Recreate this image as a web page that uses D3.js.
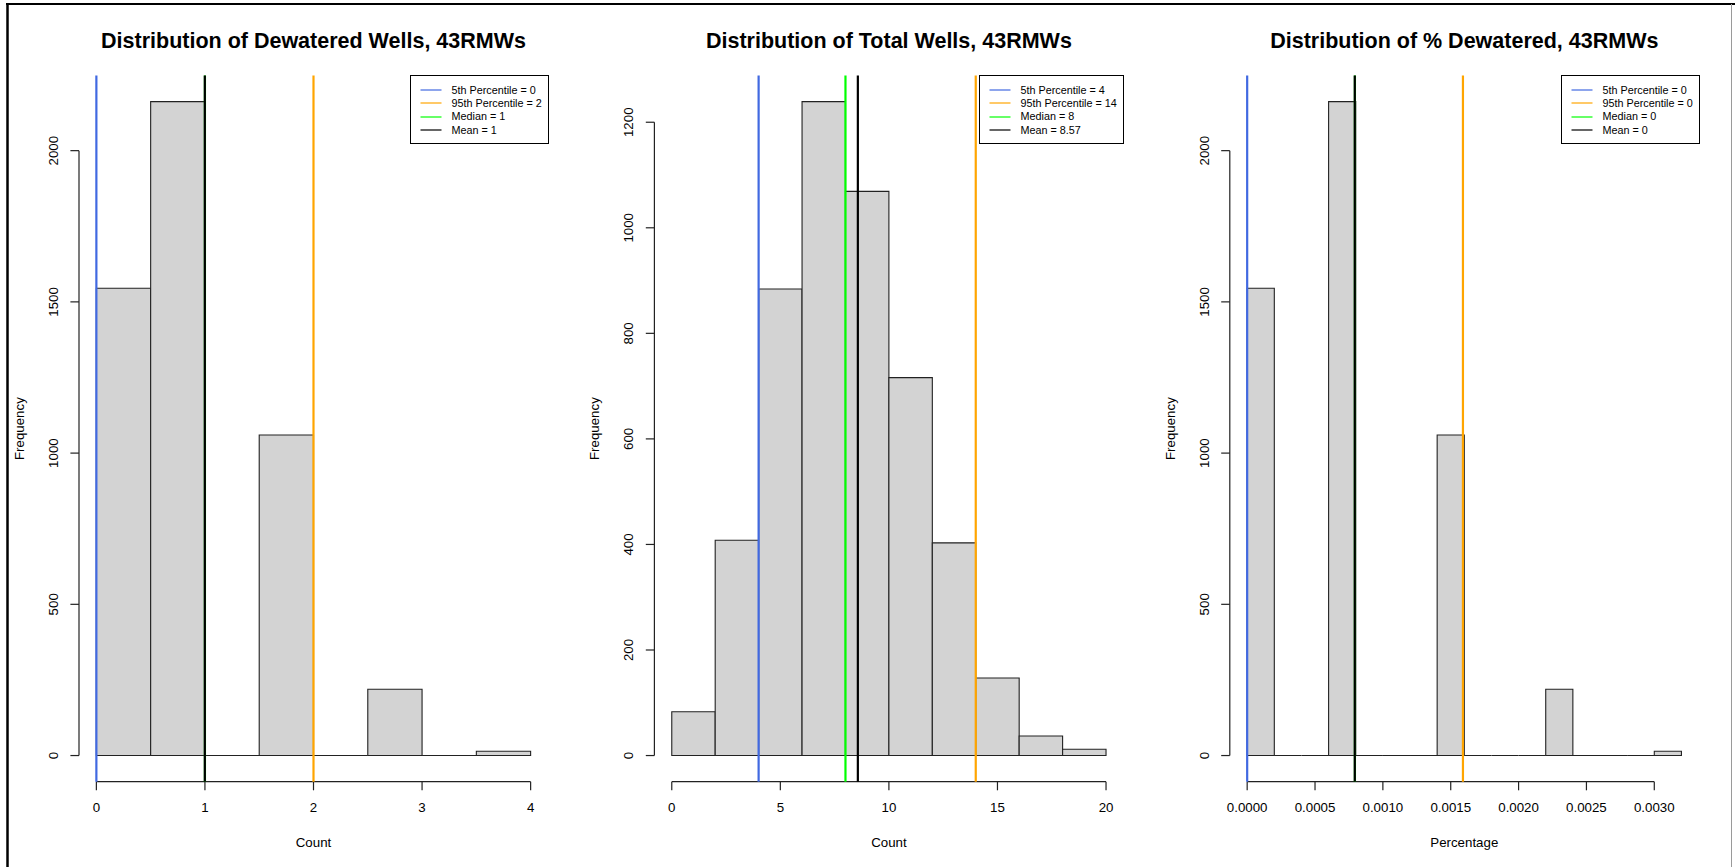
<!DOCTYPE html>
<html>
<head>
<meta charset="utf-8">
<script src="https://cdn.jsdelivr.net/npm/d3@7"></script>
<style>
    body { margin: 0; background: #fff; }
    svg { display: block; font-family: "Liberation Sans", Arial, sans-serif; }
</style>
</head>
<body>
<svg id="chart" width="1735" height="867"></svg>
<script>
// --- data (5000 runs) ---
var dewBreaks = [0, 0.5, 1, 1.5, 2, 2.5, 3, 3.5, 4];
var dewCounts = [1545, 2162, 0, 1060, 0, 219, 0, 14];
var dewXTicks = [0, 1, 2, 3, 4];
var dewYTicks = [0, 500, 1000, 1500, 2000];
var dewStats = [0, 2, 1, 0.999];           // p5, p95, median, mean
var dewLegend = ['5th Percentile = 0', '95th Percentile = 2', 'Median = 1', 'Mean = 1'];

var totBreaks = [0, 2, 4, 6, 8, 10, 12, 14, 16, 18, 20];
var totCounts = [83, 408, 884, 1239, 1069, 716, 403, 147, 37, 12];
var totXTicks = [0, 5, 10, 15, 20];
var totYTicks = [0, 200, 400, 600, 800, 1000, 1200];
var totStats = [4, 14, 8, 8.57];
var totLegend = ['5th Percentile = 4', '95th Percentile = 14', 'Median = 8', 'Mean = 8.57'];

var pctBreaks = [0, 0.0002, 0.0004, 0.0006, 0.0008, 0.0010, 0.0012, 0.0014, 0.0016,
                 0.0018, 0.0020, 0.0022, 0.0024, 0.0026, 0.0028, 0.0030, 0.0032];
var pctCounts = [1545, 0, 0, 2162, 0, 0, 0, 1060, 0, 0, 0, 219, 0, 0, 0, 14];
var pctXTicks = [0, 0.0005, 0.0010, 0.0015, 0.0020, 0.0025, 0.0030];
var pctYTicks = [0, 500, 1000, 1500, 2000];
var pctStats = [0, 0.00159, 0.000794, 0.000793];
var pctLegend = ['5th Percentile = 0', '95th Percentile = 0', 'Median = 0', 'Mean = 0'];

var lineColors = ['#4169E1', '#FFA500', '#00FF00', '#000000'];

// layout (R mfrow = c(1,3) look)
var devX = 8, figW = 575.4;
var plotLeft = 71, plotW = 469, plotTop = 75.5, plotBottom = 781.7;
var tickLen = 8.6;

var svg = d3.select('#chart');

// frame around the png
svg.append('line').attr('x1', 7.5).attr('x2', 7.5).attr('y1', 3).attr('y2', 867)
    .attr('stroke', '#000').attr('stroke-width', 2.5);
svg.append('line').attr('x1', 6).attr('x2', 1735).attr('y1', 4).attr('y2', 4)
    .attr('stroke', '#000').attr('stroke-width', 2);
svg.append('line').attr('x1', 1731.5).attr('x2', 1731.5).attr('y1', 4).attr('y2', 867)
    .attr('stroke', '#9a9a9a').attr('stroke-width', 1);

function drawHist(i, opts) {
    var left = devX + i * figW + plotLeft;
    var g = svg.append('g');

    var lo = opts.breaks[0], hi = opts.breaks[opts.breaks.length - 1];
    var pad = (hi - lo) * 0.04;
    var x = d3.scaleLinear().domain([lo - pad, hi + pad]).range([left, left + plotW]);

    var ymax = d3.max(opts.counts);
    var y = d3.scaleLinear().domain([-ymax * 0.04, ymax * 1.04]).range([plotBottom, plotTop]);

    var bins = opts.counts.map(function(c, k) {
        return { x0: opts.breaks[k], x1: opts.breaks[k + 1], n: c };
    });

    // paths instead of rects so empty bins still show as a flat line
    g.selectAll('path.bar').data(bins).enter().append('path')
        .attr('class', 'bar')
        .attr('d', function(d) {
            var p = d3.path();
            p.moveTo(x(d.x0), y(0));
            p.lineTo(x(d.x0), y(d.n));
            p.lineTo(x(d.x1), y(d.n));
            p.lineTo(x(d.x1), y(0));
            p.closePath();
            return p.toString();
        })
        .attr('fill', '#D3D3D3')
        .attr('stroke', '#222')
        .attr('stroke-width', 1.1);

    // x axis, only first tick to last tick like base R
    var xt = opts.xTicks;
    g.append('line')
        .attr('x1', x(xt[0])).attr('x2', x(xt[xt.length - 1]))
        .attr('y1', plotBottom).attr('y2', plotBottom)
        .attr('stroke', '#222').attr('stroke-width', 1.2);
    g.selectAll('line.xtick').data(xt).enter().append('line')
        .attr('class', 'xtick')
        .attr('x1', function(d) { return x(d); }).attr('x2', function(d) { return x(d); })
        .attr('y1', plotBottom).attr('y2', plotBottom + tickLen)
        .attr('stroke', '#222').attr('stroke-width', 1.2);
    g.selectAll('text.xlab').data(xt).enter().append('text')
        .attr('class', 'xlab')
        .attr('x', function(d) { return x(d); })
        .attr('y', 812.4)
        .attr('text-anchor', 'middle')
        .attr('font-size', 13.3)
        .text(opts.xFormat);

    // y axis
    var yt = opts.yTicks;
    var axX = x.range()[0];
    g.append('line')
        .attr('x1', axX).attr('x2', axX)
        .attr('y1', y(yt[0])).attr('y2', y(yt[yt.length - 1]))
        .attr('stroke', '#222').attr('stroke-width', 1.2);
    g.selectAll('line.ytick').data(yt).enter().append('line')
        .attr('class', 'ytick')
        .attr('x1', axX - tickLen).attr('x2', axX)
        .attr('y1', function(d) { return y(d); }).attr('y2', function(d) { return y(d); })
        .attr('stroke', '#222').attr('stroke-width', 1.2);
    g.selectAll('text.ylab').data(yt).enter().append('text')
        .attr('class', 'ylab')
        .attr('transform', function(d) { return 'translate(' + (axX - 21) + ',' + y(d) + ') rotate(-90)'; })
        .attr('text-anchor', 'middle')
        .attr('font-size', 13.3)
        .text(function(d) { return d; });

    // titles
    var cx = left + plotW / 2;
    g.append('text')
        .attr('x', cx).attr('y', 48.3)
        .attr('text-anchor', 'middle')
        .attr('font-size', 21.5)
        .attr('font-weight', 'bold')
        .text(opts.title);
    g.append('text')
        .attr('x', cx).attr('y', 846.8)
        .attr('text-anchor', 'middle')
        .attr('font-size', 13.3)
        .text(opts.xLabel);
    g.append('text')
        .attr('transform', 'translate(' + (left - 55) + ',' + ((plotTop + plotBottom) / 2) + ') rotate(-90)')
        .attr('text-anchor', 'middle')
        .attr('font-size', 13.3)
        .text('Frequency');

    // ablines, clipped to the plot region
    g.selectAll('line.stat').data(opts.stats).enter().append('line')
        .attr('class', 'stat')
        .attr('x1', function(d) { return x(d); }).attr('x2', function(d) { return x(d); })
        .attr('y1', plotTop).attr('y2', plotBottom)
        .attr('stroke', function(d, k) { return lineColors[k]; })
        .attr('stroke-width', 2.2);

    // legend, topright
    var lg = g.append('g');
    var box = lg.append('rect')
        .attr('fill', '#fff').attr('stroke', '#000').attr('stroke-width', 1);
    var texts = lg.selectAll('text').data(opts.legend).enter().append('text')
        .attr('font-size', 10.8)
        .attr('dy', '0.35em')
        .text(function(d) { return d; });
    var tw = 0;
    texts.each(function() { tw = Math.max(tw, this.getComputedTextLength()); });
    var bw = Math.round(41 + tw + 6.5), bh = 68;
    var bx = Math.round(left + plotW) - bw + 0.5, by = 75.5;
    box.attr('x', bx).attr('y', by).attr('width', bw).attr('height', bh);
    texts.attr('x', bx + 41)
        .attr('y', function(d, k) { return by + 14.5 + k * 13.33; });
    lg.selectAll('line').data(opts.legend).enter().append('line')
        .attr('x1', bx + 10).attr('x2', bx + 31)
        .attr('y1', function(d, k) { return Math.round(by + 14.5 + k * 13.33); })
        .attr('y2', function(d, k) { return Math.round(by + 14.5 + k * 13.33); })
        .attr('stroke', function(d, k) { return lineColors[k]; })
        .attr('stroke-width', 1.2);
}

drawHist(0, {
    breaks: dewBreaks, counts: dewCounts, xTicks: dewXTicks, yTicks: dewYTicks,
    stats: dewStats, legend: dewLegend,
    title: 'Distribution of Dewatered Wells, 43RMWs', xLabel: 'Count',
    xFormat: function(d) { return d; }
});
drawHist(1, {
    breaks: totBreaks, counts: totCounts, xTicks: totXTicks, yTicks: totYTicks,
    stats: totStats, legend: totLegend,
    title: 'Distribution of Total Wells, 43RMWs', xLabel: 'Count',
    xFormat: function(d) { return d; }
});
drawHist(2, {
    breaks: pctBreaks, counts: pctCounts, xTicks: pctXTicks, yTicks: pctYTicks,
    stats: pctStats, legend: pctLegend,
    title: 'Distribution of % Dewatered, 43RMWs', xLabel: 'Percentage',
    xFormat: d3.format('.4f')
});
</script>
</body>
</html>
